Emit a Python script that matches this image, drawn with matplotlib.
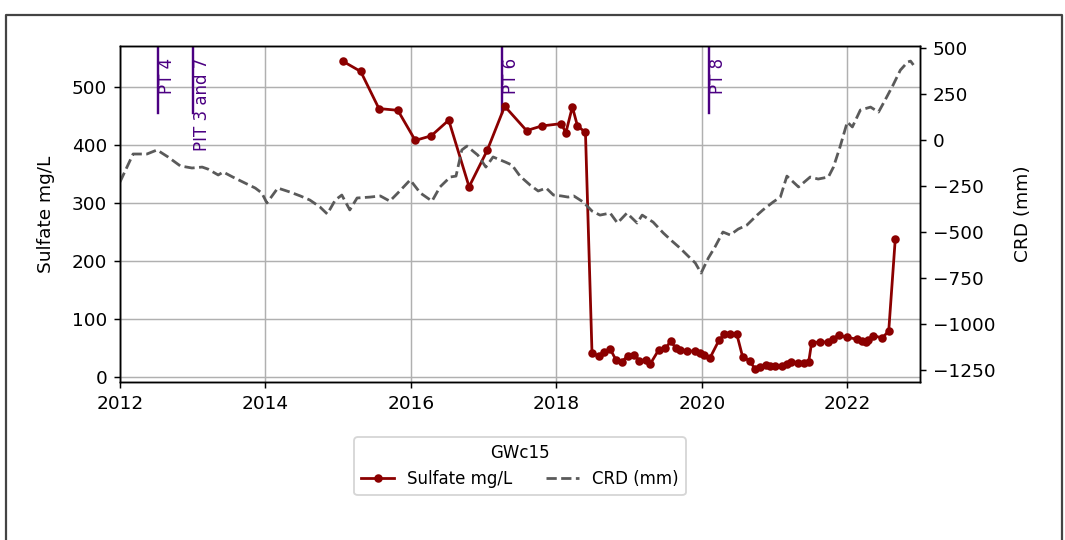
import matplotlib
matplotlib.use("Agg")
import matplotlib.pyplot as plt
from matplotlib.lines import Line2D

# Sulfate (mg/L) at well GWc15, decimal years
sulfate_year = [2015.06, 2015.31, 2015.56, 2015.82, 2016.06, 2016.28, 2016.52, 2016.80,
                2017.05, 2017.29, 2017.59, 2017.80, 2018.07, 2018.13, 2018.22, 2018.29,
                2018.40, 2018.49, 2018.58, 2018.65, 2018.74, 2018.82, 2018.90, 2018.98,
                2019.07, 2019.14, 2019.23, 2019.29, 2019.41, 2019.50, 2019.57, 2019.65,
                2019.70, 2019.79, 2019.91, 2019.97, 2020.03, 2020.11, 2020.24, 2020.31,
                2020.39, 2020.48, 2020.56, 2020.66, 2020.73, 2020.80, 2020.88, 2020.94,
                2021.01, 2021.10, 2021.17, 2021.22, 2021.32, 2021.40, 2021.47, 2021.51,
                2021.63, 2021.74, 2021.81, 2021.88, 2021.99, 2022.14, 2022.20, 2022.26,
                2022.28, 2022.36, 2022.48, 2022.57, 2022.66]
sulfate_mg = [545, 527, 463, 460, 408, 416, 443, 328,
              391, 467, 425, 433, 437, 421, 466, 433,
              422, 41, 36, 43, 48, 29, 26, 36,
              38, 28, 29, 22, 47, 49, 61, 49,
              47, 45, 44, 41, 38, 32, 64, 73,
              73, 74, 35, 27, 14, 17, 21, 19,
              18, 18, 22, 25, 24, 24, 26, 59,
              60, 60, 66, 72, 68, 65, 61, 60,
              63, 71, 67, 79, 238]

# cumulative rainfall deviation (mm)
crd_year = [2012.00, 2012.18, 2012.37, 2012.51, 2012.66, 2012.83, 2012.99, 2013.13,
            2013.21, 2013.35, 2013.42, 2013.55, 2013.72, 2013.86, 2013.95, 2014.02,
            2014.17, 2014.34, 2014.48, 2014.61, 2014.75, 2014.85, 2014.96, 2015.05,
            2015.16, 2015.26, 2015.44, 2015.58, 2015.71, 2015.82, 2015.99, 2016.13,
            2016.29, 2016.40, 2016.54, 2016.62, 2016.70, 2016.77, 2016.92, 2017.03,
            2017.13, 2017.30, 2017.39, 2017.50, 2017.64, 2017.75, 2017.86, 2017.96,
            2018.07, 2018.16, 2018.24, 2018.37, 2018.49, 2018.60, 2018.74, 2018.84,
            2018.97, 2019.11, 2019.18, 2019.33, 2019.47, 2019.59, 2019.70, 2019.81,
            2019.91, 2019.99, 2020.09, 2020.18, 2020.29, 2020.39, 2020.50, 2020.62,
            2020.76, 2020.84, 2020.98, 2021.08, 2021.17, 2021.33, 2021.49, 2021.60,
            2021.74, 2021.81, 2021.90, 2022.00, 2022.07, 2022.18, 2022.32, 2022.43,
            2022.52, 2022.63, 2022.73, 2022.83, 2022.87, 2022.91]
crd_mm = [-228, -76, -76, -54, -92, -141, -152, -147,
          -158, -190, -174, -201, -234, -261, -288, -342,
          -261, -283, -304, -326, -364, -402, -326, -299,
          -380, -315, -310, -304, -332, -288, -217, -288,
          -332, -255, -201, -196, -54, -33, -82, -147,
          -92, -120, -136, -196, -245, -277, -261, -299,
          -304, -310, -304, -337, -386, -408, -397, -451,
          -397, -451, -408, -446, -505, -549, -587, -630,
          -668, -723, -641, -582, -500, -516, -484, -462,
          -408, -380, -337, -310, -196, -255, -201, -212,
          -201, -147, -38, 98, 71, 163, 179, 152,
          217, 299, 380, 424, 429, 408]

# pumping test events
event_year = [2012.52, 2013.01, 2017.25, 2020.10]
event_label = ["PT 4", "PIT 3 and 7", "PT 6", "PT 8"]

dpi = 133
fig = plt.figure(figsize=(1065 / dpi, 540 / dpi), dpi=dpi)
ax = fig.add_axes([120 / 1065, 1 - 382 / 540, 800 / 1065, 336 / 540])
ax2 = ax.twinx()

ax.plot(sulfate_year, sulfate_mg, color="darkred", marker="o", markersize=3.6,
        linewidth=1.5, label="Sulfate mg/L", zorder=3)
ax2.plot(crd_year, crd_mm, color="#5a5a5a", linestyle="--", linewidth=1.5,
         label="CRD (mm)")

for yr, lab in zip(event_year, event_label):
    ax.axvline(yr, ymin=0.8, ymax=1.0, color="indigo", linewidth=1.3)
    ax.text(yr, 550, lab, rotation=90, ha="left", va="top", color="indigo",
            fontsize=9)

ax.set_xlim(2012, 2023)
ax.set_xticks([2012, 2014, 2016, 2018, 2020, 2022])
ax.set_ylim(-9, 571)
ax.set_yticks([0, 100, 200, 300, 400, 500])
ax2.set_ylim(-1315, 511)
ax2.set_yticks([-1250, -1000, -750, -500, -250, 0, 250, 500])
ax.grid(True)
ax.set_ylabel("Sulfate mg/L", labelpad=9)
ax2.set_ylabel("CRD (mm)", labelpad=10)

h1, l1 = ax.get_legend_handles_labels()
h2, l2 = ax2.get_legend_handles_labels()
ax.legend(h1 + h2, l1 + l2, title="GWc15", loc="upper center",
          bbox_to_anchor=(0.5, -0.14), ncol=2, fontsize=9, title_fontsize=9)

# outer frame
fx = [6 / 1065, 6 / 1065, 1062 / 1065, 1062 / 1065]
fy = [0, 1 - 15.5 / 540, 1 - 15.5 / 540, 0]
fig.add_artist(Line2D(fx, fy, transform=fig.transFigure, color="#444444",
                      linewidth=1.2))

fig.savefig("out.png", dpi=dpi)
